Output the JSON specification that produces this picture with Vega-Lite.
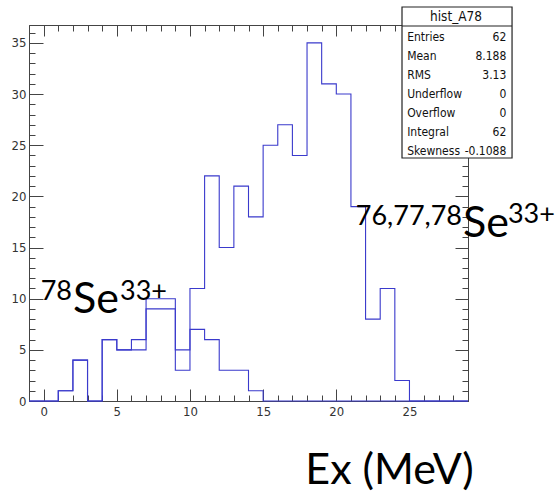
{
  "$schema": "https://vega.github.io/schema/vega-lite/v6.json",
  "width": 439,
  "height": 376,
  "autosize": {"type": "none"},
  "padding": {"left": 29, "top": 25, "right": 90, "bottom": 93},
  "background": "white",
  "config": {
    "view": {"stroke": "#444", "strokeWidth": 1},
    "axis": {
      "domainColor": "#444",
      "tickColor": "#444",
      "labelColor": "#333",
      "labelFont": "Liberation Sans Narrow, DejaVu Sans Condensed, Liberation Sans",
      "labelFontSize": 13,
      "grid": false,
      "labelOverlap": false,
      "labelFlush": false
    },
    "text": {"font": "Lato"}
  },
  "layer": [
    {
      "data": {"values": [
        {"lo": -1, "n": 0, "ion": "78"}, {"lo": 0, "n": 0, "ion": "78"}, {"lo": 1, "n": 1, "ion": "78"}, {"lo": 2, "n": 4, "ion": "78"},
        {"lo": 3, "n": 0, "ion": "78"}, {"lo": 4, "n": 6, "ion": "78"}, {"lo": 5, "n": 5, "ion": "78"}, {"lo": 6, "n": 5, "ion": "78"},
        {"lo": 7, "n": 9, "ion": "78"}, {"lo": 8, "n": 9, "ion": "78"}, {"lo": 9, "n": 3, "ion": "78"}, {"lo": 10, "n": 7, "ion": "78"},
        {"lo": 11, "n": 6, "ion": "78"}, {"lo": 12, "n": 3, "ion": "78"}, {"lo": 13, "n": 3, "ion": "78"}, {"lo": 14, "n": 1, "ion": "78"},
        {"lo": 15, "n": 0, "ion": "78"}, {"lo": 16, "n": 0, "ion": "78"}, {"lo": 17, "n": 0, "ion": "78"}, {"lo": 18, "n": 0, "ion": "78"},
        {"lo": 19, "n": 0, "ion": "78"}, {"lo": 20, "n": 0, "ion": "78"}, {"lo": 21, "n": 0, "ion": "78"}, {"lo": 22, "n": 0, "ion": "78"},
        {"lo": 23, "n": 0, "ion": "78"}, {"lo": 24, "n": 0, "ion": "78"}, {"lo": 25, "n": 0, "ion": "78"}, {"lo": 26, "n": 0, "ion": "78"},
        {"lo": 27, "n": 0, "ion": "78"}, {"lo": 28, "n": 0, "ion": "78"}, {"lo": 29, "n": 0, "ion": "78"},
        {"lo": -1, "n": 0, "ion": "76,77,78"}, {"lo": 0, "n": 0, "ion": "76,77,78"}, {"lo": 1, "n": 1, "ion": "76,77,78"}, {"lo": 2, "n": 4, "ion": "76,77,78"},
        {"lo": 3, "n": 0, "ion": "76,77,78"}, {"lo": 4, "n": 6, "ion": "76,77,78"}, {"lo": 5, "n": 5, "ion": "76,77,78"}, {"lo": 6, "n": 6, "ion": "76,77,78"},
        {"lo": 7, "n": 10, "ion": "76,77,78"}, {"lo": 8, "n": 10, "ion": "76,77,78"}, {"lo": 9, "n": 5, "ion": "76,77,78"}, {"lo": 10, "n": 11, "ion": "76,77,78"},
        {"lo": 11, "n": 22, "ion": "76,77,78"}, {"lo": 12, "n": 15, "ion": "76,77,78"}, {"lo": 13, "n": 21, "ion": "76,77,78"}, {"lo": 14, "n": 18, "ion": "76,77,78"},
        {"lo": 15, "n": 25, "ion": "76,77,78"}, {"lo": 16, "n": 27, "ion": "76,77,78"}, {"lo": 17, "n": 24, "ion": "76,77,78"}, {"lo": 18, "n": 35, "ion": "76,77,78"},
        {"lo": 19, "n": 31, "ion": "76,77,78"}, {"lo": 20, "n": 30, "ion": "76,77,78"}, {"lo": 21, "n": 19, "ion": "76,77,78"}, {"lo": 22, "n": 8, "ion": "76,77,78"},
        {"lo": 23, "n": 11, "ion": "76,77,78"}, {"lo": 24, "n": 2, "ion": "76,77,78"}, {"lo": 25, "n": 0, "ion": "76,77,78"}, {"lo": 26, "n": 0, "ion": "76,77,78"},
        {"lo": 27, "n": 0, "ion": "76,77,78"}, {"lo": 28, "n": 0, "ion": "76,77,78"}, {"lo": 29, "n": 0, "ion": "76,77,78"}
      ]},
      "mark": {"type": "line", "interpolate": "step-after", "color": "#3a3acc", "strokeWidth": 1.1},
      "encoding": {
        "x": {
          "field": "lo", "type": "quantitative",
          "scale": {"domain": [-1, 29], "nice": false, "zero": false},
          "axis": {
            "orient": "bottom",
            "values": [0,1,2,3,4,5,6,7,8,9,10,11,12,13,14,15,16,17,18,19,20,21,22,23,24,25,26,27,28],
            "labelExpr": "datum.value % 5 === 0 ? datum.label : ''",
            "tickSize": {"condition": {"test": "datum.value % 5 === 0", "value": -12}, "value": -6},
            "labelPadding": 16,
            "title": "Ex (MeV)",
            "titleFont": "Lato",
            "titleFontSize": 43,
            "titleFontWeight": "normal",
            "titleColor": "black",
            "titleX": 360,
            "titleY": 82,
            "titleAlign": "center",
            "titleBaseline": "alphabetic"
          }
        },
        "y": {
          "field": "n", "type": "quantitative",
          "scale": {"domain": [0, 36.75], "nice": false, "zero": false},
          "axis": {
            "orient": "left",
            "values": [0,1,2,3,4,5,6,7,8,9,10,11,12,13,14,15,16,17,18,19,20,21,22,23,24,25,26,27,28,29,30,31,32,33,34,35,36],
            "labelExpr": "datum.value % 5 === 0 ? datum.label : ''",
            "tickSize": {"condition": {"test": "datum.value % 5 === 0", "value": -14}, "value": -6},
            "labelPadding": 17,
            "title": null
          }
        },
        "detail": {"field": "ion", "type": "nominal"}
      }
    },
    {
      "data": {"values": [{"name": "hist_A78"}]},
      "mark": {"type": "rect", "fill": "white", "stroke": "#222", "strokeWidth": 1.2},
      "encoding": {
        "x": {
          "datum": 24.49, "type": "quantitative",
          "axis": {
            "orient": "top",
            "values": [0,1,2,3,4,5,6,7,8,9,10,11,12,13,14,15,16,17,18,19,20,21,22,23,24,25,26,27,28],
            "labels": false,
            "tickSize": {"condition": {"test": "datum.value % 5 === 0", "value": -11}, "value": -6},
            "title": null
          }
        },
        "x2": {"datum": 32.01},
        "y": {
          "datum": 23.75, "type": "quantitative",
          "axis": {
            "orient": "right",
            "values": [0,1,2,3,4,5,6,7,8,9,10,11,12,13,14,15,16,17,18,19,20,21,22,23,24,25,26,27,28,29,30,31,32,33,34,35,36],
            "labels": false,
            "tickSize": {"condition": {"test": "datum.value % 5 === 0", "value": -13}, "value": -6},
            "title": null
          }
        },
        "y2": {"datum": 38.51}
      }
    },
    {
      "data": {"values": [{"name": "hist_A78"}]},
      "mark": {"type": "rule", "stroke": "#222", "strokeWidth": 1.2},
      "encoding": {
        "x": {"datum": 24.49, "type": "quantitative", "axis": null},
        "x2": {"datum": 32.01},
        "y": {"datum": 36.65, "type": "quantitative", "axis": null}
      }
    },
    {
      "data": {"values": [{"name": "hist_A78"}]},
      "mark": {"type": "text", "font": "Liberation Sans Narrow, DejaVu Sans Condensed, Liberation Sans", "fontSize": 13.5, "align": "center", "baseline": "middle", "color": "#111"},
      "encoding": {
        "x": {"datum": 28.18, "type": "quantitative", "axis": null},
        "y": {"datum": 37.55, "type": "quantitative", "axis": null},
        "text": {"field": "name"}
      }
    },
    {
      "data": {"values": [{"name": "hist_A78"}]},
      "mark": {"type": "text", "font": "Liberation Sans Narrow, DejaVu Sans Condensed, Liberation Sans", "fontSize": 12, "align": "left", "baseline": "middle", "lineHeight": 18.9, "color": "#111",
        "text": ["Entries", "Mean", "RMS", "Underflow", "Overflow", "Integral", "Skewness"]},
      "encoding": {
        "x": {"datum": 24.84, "type": "quantitative", "axis": null},
        "y": {"datum": 35.55, "type": "quantitative", "axis": null}
      }
    },
    {
      "data": {"values": [{"name": "hist_A78"}]},
      "mark": {"type": "text", "font": "Liberation Sans Narrow, DejaVu Sans Condensed, Liberation Sans", "fontSize": 12, "align": "right", "baseline": "middle", "lineHeight": 18.9, "color": "#111",
        "text": ["62", "8.188", "3.13", "0", "0", "62", "-0.1088"]},
      "encoding": {
        "x": {"datum": 31.62, "type": "quantitative", "axis": null},
        "y": {"datum": 35.55, "type": "quantitative", "axis": null}
      }
    },
    {
      "data": {"values": [{"t": "78"}]},
      "mark": {"type": "text", "font": "Lato", "fontSize": 27, "align": "right", "baseline": "alphabetic", "color": "black"},
      "encoding": {
        "x": {"datum": 1.94, "type": "quantitative", "axis": null},
        "y": {"datum": 9.87, "type": "quantitative", "axis": null},
        "text": {"field": "t"}
      }
    },
    {
      "data": {"values": [{"t": "Se"}]},
      "mark": {"type": "text", "font": "Lato", "fontSize": 43, "align": "left", "baseline": "alphabetic", "color": "black"},
      "encoding": {
        "x": {"datum": 2.01, "type": "quantitative", "axis": null},
        "y": {"datum": 8.6, "type": "quantitative", "axis": null},
        "text": {"field": "t"}
      }
    },
    {
      "data": {"values": [{"t": "33+"}]},
      "mark": {"type": "text", "font": "Lato", "fontSize": 27, "align": "left", "baseline": "alphabetic", "color": "black"},
      "encoding": {
        "x": {"datum": 5.22, "type": "quantitative", "axis": null},
        "y": {"datum": 9.87, "type": "quantitative", "axis": null},
        "text": {"field": "t"}
      }
    },
    {
      "data": {"values": [{"t": "76,77,78"}]},
      "mark": {"type": "text", "font": "Lato", "fontSize": 27, "align": "right", "baseline": "alphabetic", "color": "black"},
      "encoding": {
        "x": {"datum": 28.59, "type": "quantitative", "axis": null},
        "y": {"datum": 17.2, "type": "quantitative", "axis": null},
        "text": {"field": "t"}
      }
    },
    {
      "data": {"values": [{"t": "Se"}]},
      "mark": {"type": "text", "font": "Lato", "fontSize": 43, "align": "left", "baseline": "alphabetic", "color": "black"},
      "encoding": {
        "x": {"datum": 28.66, "type": "quantitative", "axis": null},
        "y": {"datum": 16.03, "type": "quantitative", "axis": null},
        "text": {"field": "t"}
      }
    },
    {
      "data": {"values": [{"t": "33+"}]},
      "mark": {"type": "text", "font": "Lato", "fontSize": 27, "align": "left", "baseline": "alphabetic", "color": "black"},
      "encoding": {
        "x": {"datum": 31.73, "type": "quantitative", "axis": null},
        "y": {"datum": 17.4, "type": "quantitative", "axis": null},
        "text": {"field": "t"}
      }
    }
  ],
  "resolve": {"axis": {"x": "independent", "y": "independent"}}
}
